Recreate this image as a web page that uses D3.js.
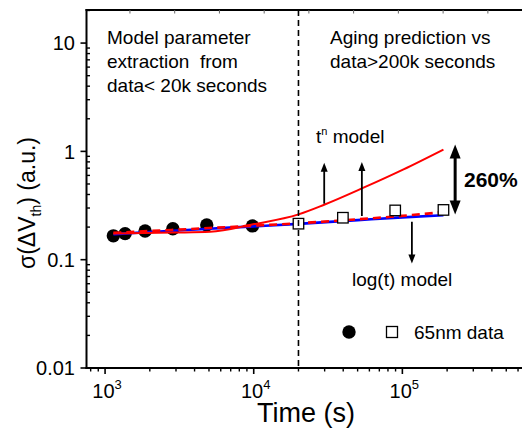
<!DOCTYPE html>
<html><head><meta charset="utf-8">
<script src="https://cdn.jsdelivr.net/npm/d3@7"></script>
<style>
html,body{margin:0;padding:0;background:#fff;}
svg{display:block;font-family:"Liberation Sans",Arial,sans-serif;}
</style></head>
<body>
<svg id="chart" width="522" height="428"></svg>
<script>
// ---- data ----
const circleTimes = [1137, 1364, 1859, 2857, 4830, 9800];
const circleValues = [0.166, 0.174, 0.184, 0.193, 0.209, 0.205];
const squareTimes = [20000, 39800, 89500, 189000];
const squareValues = [0.215, 0.244, 0.285, 0.288];
const logModelTimes = [1137, 2000, 5000, 10000, 20000, 50000, 100000, 189000];
const logModelValues = [0.172, 0.180, 0.193, 0.203, 0.214, 0.232, 0.246, 0.257];
const dashModelTimes = [1137, 2000, 5000, 10000, 20000, 50000, 100000, 189000];
const dashModelValues = [0.177, 0.184, 0.196, 0.206, 0.217, 0.236, 0.254, 0.275];
const powModelTimes = [1137, 2868, 5088, 9900, 20000, 29500, 54800, 101800, 189000];
const powModelValues = [0.174, 0.178, 0.181, 0.212, 0.262, 0.320, 0.462, 0.682, 1.04];
const yTickValues = [0.01, 0.1, 1, 10];
const yTickLabels = ["0.01", "0.1", "1", "10"];
const xTickValues = [1e3, 1e4, 1e5];
const xTickExponents = ["3", "4", "5"];
const topTickValues = [1470, 2940, 5880, 11760, 23500, 47000, 94000, 188000, 376000];
const splitTime = 20000;
const upArrowTimes = [29800, 53400];
const upArrowFrom = [0.329, 0.253];
const upArrowTo = [0.786, 0.80];
const downArrow = {t: 115900, from: 0.224, to: 0.0924};
const gapArrow = {t: 226500, top: 1.16, bottom: 0.262};

// ---- layout ----
const svg = d3.select("#chart");
const L = 86.5, R = 522, T = 10, B = 368;
const x = d3.scaleLog().domain([750, 638000]).range([L, R]);
const y = d3.scaleLog().domain([0.01, 20.2]).range([B, T]);

// minor ticks
const yMinor = [];
for (let d = -2; d <= 1; d++) for (let k = 2; k <= 9; k++) { const v = k * Math.pow(10, d); if (v <= 20) yMinor.push(v); }
const xMinor = [];
for (let d = 2; d <= 5; d++) for (let k = 2; k <= 9; k++) { const v = k * Math.pow(10, d); if (v >= 750 && v <= 638000) xMinor.push(v); }

const g = svg.append("g");

// circles (below lines)
g.selectAll("circle.data").data(circleTimes).enter().append("circle")
  .attr("cx", d => x(d)).attr("cy", (d, i) => y(circleValues[i])).attr("r", 6.7).attr("fill", "#000");

const line = d3.line().x(d => x(d[0])).y(d => y(d[1])).curve(d3.curveMonotoneX);

g.append("path").datum(logModelTimes.map((t, i) => [t, logModelValues[i]]))
  .attr("d", line).attr("fill", "none").attr("stroke", "#0000ff").attr("stroke-width", 2.6);
g.append("path").datum(powModelTimes.map((t, i) => [t, powModelValues[i]]))
  .attr("d", line).attr("fill", "none").attr("stroke", "#ff0000").attr("stroke-width", 2);
g.append("path").datum(dashModelTimes.map((t, i) => [t, dashModelValues[i]]))
  .attr("d", line).attr("fill", "none").attr("stroke", "#ff0000").attr("stroke-width", 2.6)
  .attr("stroke-dasharray", "8,5");

// squares
const sq = 10.5;
g.selectAll("rect.data").data(squareTimes).enter().append("rect")
  .attr("x", d => x(d) - sq / 2).attr("y", (d, i) => y(squareValues[i]) - sq / 2)
  .attr("width", sq).attr("height", sq).attr("fill", "#fff").attr("stroke", "#000").attr("stroke-width", 1.3);

// vertical dashed split line
g.append("line").attr("x1", x(splitTime)).attr("x2", x(splitTime)).attr("y1", T).attr("y2", B)
  .attr("stroke", "#000").attr("stroke-width", 1.6).attr("stroke-dasharray", "6,4");

// axes frame
const ax = svg.append("g").attr("stroke", "#000");
ax.append("line").attr("x1", L).attr("x2", L).attr("y1", T - 1).attr("y2", B + 1).attr("stroke-width", 2);
ax.append("line").attr("x1", L - 1).attr("x2", R).attr("y1", B).attr("y2", B).attr("stroke-width", 2);
ax.append("line").attr("x1", L - 1).attr("x2", R).attr("y1", T).attr("y2", T).attr("stroke-width", 2);

// y ticks
yTickValues.forEach(v => ax.append("line").attr("x1", L - 6).attr("x2", L).attr("y1", y(v)).attr("y2", y(v)).attr("stroke-width", 1.6));
yMinor.forEach(v => ax.append("line").attr("x1", L).attr("x2", L + 3.5).attr("y1", y(v)).attr("y2", y(v)).attr("stroke-width", 1.4));
// x ticks
xTickValues.forEach(v => ax.append("line").attr("x1", x(v)).attr("x2", x(v)).attr("y1", B).attr("y2", B + 6).attr("stroke-width", 1.6));
xMinor.forEach(v => ax.append("line").attr("x1", x(v)).attr("x2", x(v)).attr("y1", B).attr("y2", B + 3.5).attr("stroke-width", 1.4));
// top ticks
topTickValues.forEach(v => ax.append("line").attr("x1", x(v)).attr("x2", x(v)).attr("y1", T).attr("y2", T + 3.5).attr("stroke-width", 1).attr("stroke", "#666"));

// tick labels
yTickValues.forEach((v, i) => svg.append("text").attr("x", 75).attr("y", y(v)).attr("dy", "0.36em")
  .attr("text-anchor", "end").attr("font-size", 20).text(yTickLabels[i]));
xTickValues.forEach((v, i) => {
  const t = svg.append("text").attr("x", x(v) + 2).attr("y", 398).attr("text-anchor", "middle").attr("font-size", 20);
  t.append("tspan").text("10");
  t.append("tspan").attr("dy", -9).attr("font-size", 13).text(xTickExponents[i]);
});

// axis titles
svg.append("text").attr("x", 306).attr("y", 422).attr("text-anchor", "middle").attr("font-size", 27).text("Time (s)");
const yl = svg.append("text").attr("transform", "translate(35,203) rotate(-90)").attr("text-anchor", "middle").attr("font-size", 23);
yl.append("tspan").text("σ(ΔV");
yl.append("tspan").attr("dy", 6).attr("font-size", 14).text("th");
yl.append("tspan").attr("dy", -6).text(") (a.u.)");

// annotation texts
const ann = svg.append("g").attr("font-size", 19);
ann.append("text").attr("x", 107).attr("y", 44).text("Model parameter");
ann.append("text").attr("x", 107).attr("y", 68).attr("xml:space", "preserve").text("extraction  from");
ann.append("text").attr("x", 107).attr("y", 92).text("data< 20k seconds");
ann.append("text").attr("x", 330).attr("y", 44).text("Aging prediction vs");
ann.append("text").attr("x", 330).attr("y", 68).text("data>200k seconds");
const tn = ann.append("text").attr("x", 316).attr("y", 143);
tn.append("tspan").text("t");
tn.append("tspan").attr("dy", -8).attr("font-size", 11).text("n");
tn.append("tspan").attr("dy", 8).text(" model");
ann.append("text").attr("x", 352).attr("y", 286).text("log(t) model");
svg.append("text").attr("x", 464).attr("y", 187).attr("font-size", 21).attr("font-weight", "bold").text("260%");

// arrows
function arrowHead(px, py, dir, len, wid) {
  // dir: -1 up, +1 down; (px,py) tip
  svg.append("path").attr("d", `M${px},${py} L${px - wid / 2},${py - dir * len} L${px + wid / 2},${py - dir * len} Z`).attr("fill", "#000");
}
upArrowTimes.forEach((t, i) => {
  const px = x(t), y0 = y(upArrowFrom[i]), y1 = y(upArrowTo[i]);
  svg.append("line").attr("x1", px).attr("x2", px).attr("y1", y0).attr("y2", y1 + 6).attr("stroke", "#000").attr("stroke-width", 1.8);
  arrowHead(px, y1, -1, 9, 7);
});
{
  const px = x(downArrow.t), y0 = y(downArrow.from), y1 = y(downArrow.to);
  svg.append("line").attr("x1", px).attr("x2", px).attr("y1", y0).attr("y2", y1 - 6).attr("stroke", "#000").attr("stroke-width", 1.8);
  arrowHead(px, y1, 1, 9, 7);
}
{
  const px = x(gapArrow.t), yt = y(gapArrow.top), yb = y(gapArrow.bottom);
  svg.append("line").attr("x1", px).attr("x2", px).attr("y1", yt + 10).attr("y2", yb - 10).attr("stroke", "#000").attr("stroke-width", 3);
  arrowHead(px, yt, -1, 14, 11);
  arrowHead(px, yb, 1, 14, 11);
}

// legend
svg.append("circle").attr("cx", 349).attr("cy", 332).attr("r", 6.7).attr("fill", "#000");
svg.append("rect").attr("x", 392 - 5.5).attr("y", 332 - 5.5).attr("width", 11).attr("height", 11)
  .attr("fill", "#fff").attr("stroke", "#000").attr("stroke-width", 1.3);
svg.append("text").attr("x", 414).attr("y", 338.5).attr("font-size", 19).text("65nm data");
</script>
</body></html>
